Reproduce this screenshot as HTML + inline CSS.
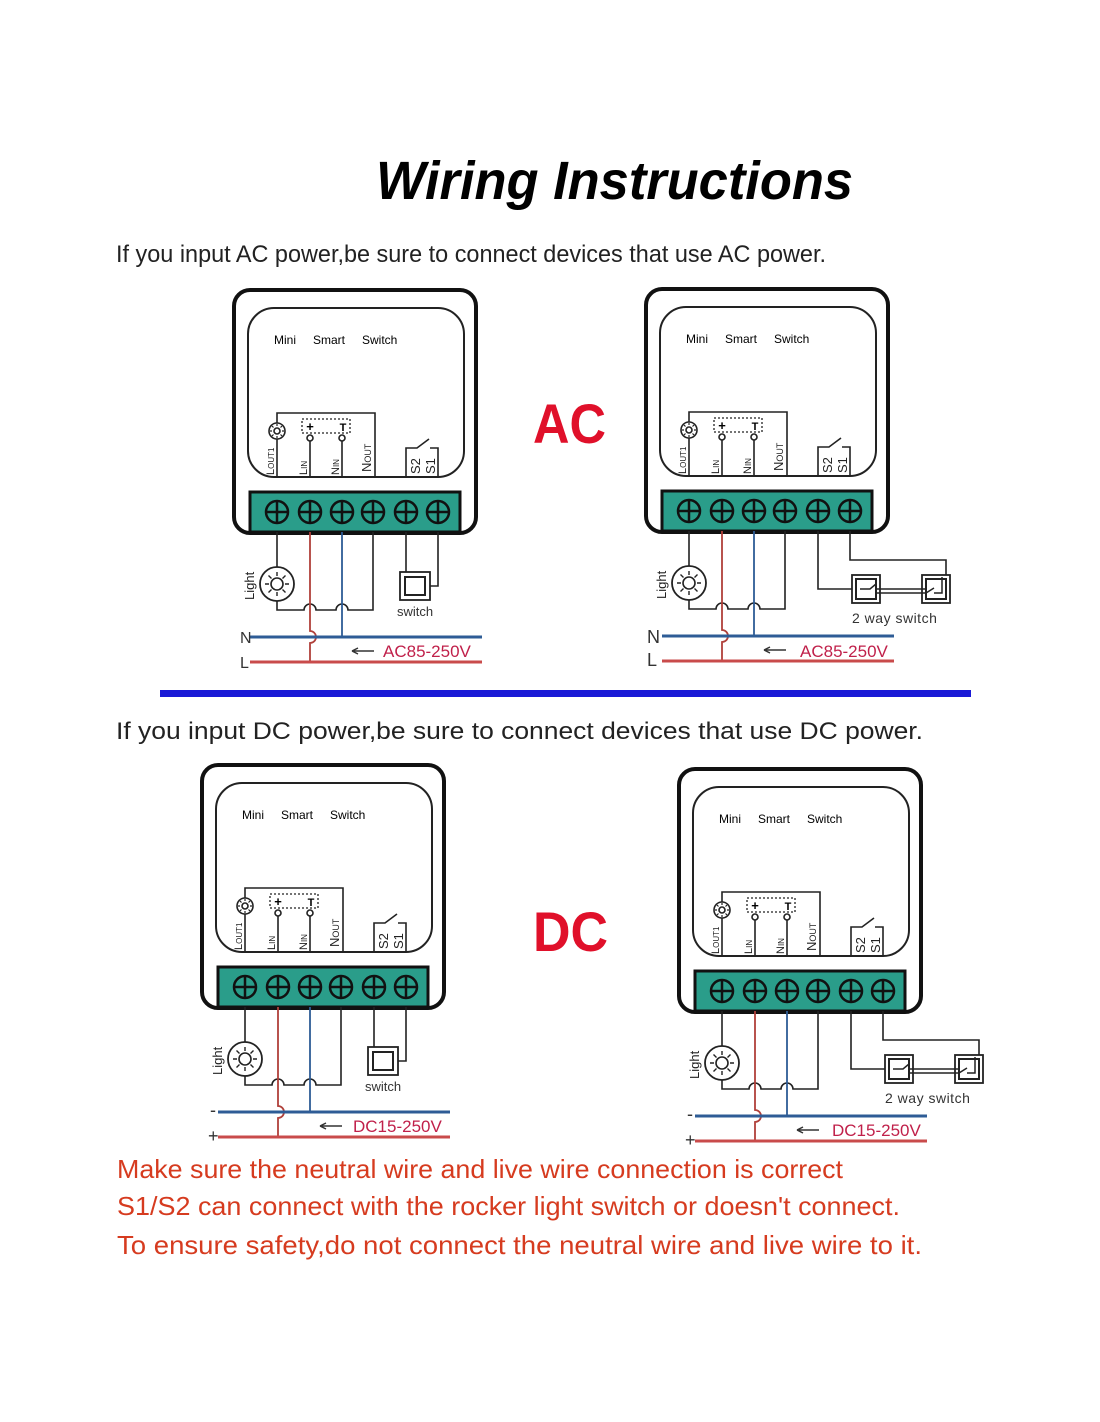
<!DOCTYPE html>
<html><head><meta charset="utf-8">
<style>
html,body{margin:0;padding:0;background:#fff;}
svg{display:block;}
text{font-family:"Liberation Sans",Arial,sans-serif;}
</style></head>
<body>
<svg width="1100" height="1422" viewBox="0 0 1100 1422" xmlns="http://www.w3.org/2000/svg">
<defs>
<g id="dev">
  <rect x="2" y="2" width="242" height="243" rx="16" fill="#fff" stroke="#111" stroke-width="4"/>
  <rect x="16" y="20" width="216" height="169" rx="26" fill="none" stroke="#222" stroke-width="2"/>
  <rect x="18" y="204" width="210" height="40" fill="#2a9d8a" stroke="#111" stroke-width="3"/>
  <g fill="#2a9d8a" stroke="#111" stroke-width="2.5">
    <circle cx="45" cy="224" r="11"/><circle cx="78" cy="224" r="11"/><circle cx="110" cy="224" r="11"/>
    <circle cx="141" cy="224" r="11"/><circle cx="174" cy="224" r="11"/><circle cx="206" cy="224" r="11"/>
  </g>
  <path d="M34 224h22M45 213v22M67 224h22M78 213v22M99 224h22M110 213v22M130 224h22M141 213v22M163 224h22M174 213v22M195 224h22M206 213v22" stroke="#111" stroke-width="2.5"/>
  <g stroke="#222" stroke-width="1.6" fill="none">
    <path d="M45 189V125H143V189"/>
    <circle cx="45" cy="143" r="8" fill="#fff"/>
    <circle cx="45" cy="143" r="3"/>
    <path d="M45 136v2M45 148v2M38 143h2M50 143h2M40 138l1.5 1.5M48.5 146.5l1.5 1.5M40 148l1.5-1.5M48.5 139.5l1.5-1.5" stroke-width="1.2"/>
    <path d="M78 153V189M110 153V189"/>
    <circle cx="78" cy="150" r="3"/><circle cx="110" cy="150" r="3"/>
    <rect x="70" y="131" width="48" height="14" stroke-dasharray="2,2" stroke-width="1.3"/>
    <path d="M174 189V160H185L197 151M198 160H206V189"/>
  </g>
  <text x="78" y="143" font-size="13" font-weight="bold" text-anchor="middle">+</text>
  <text x="111" y="143" font-size="11" font-weight="bold" text-anchor="middle">T</text>
  <text x="42" y="56" font-size="12">Mini</text>
  <text x="81" y="56" font-size="12">Smart</text>
  <text x="130" y="56" font-size="12">Switch</text>
  <g font-size="11" fill="#222">
    <text transform="translate(42,187) rotate(-90)">L<tspan font-size="8">OUT1</tspan></text>
    <text transform="translate(75,187) rotate(-90)">L<tspan font-size="8">IN</tspan></text>
    <text transform="translate(107,187) rotate(-90)">N<tspan font-size="8">IN</tspan></text>
    <text transform="translate(139,184) rotate(-90)" font-size="13">N<tspan font-size="9">OUT</tspan></text>
    <text transform="translate(188,186) rotate(-90)" font-size="13">S2</text>
    <text transform="translate(203,186) rotate(-90)" font-size="13">S1</text>
  </g>
  <g fill="none" stroke="#222" stroke-width="1.6">
    <path d="M45 244V279M45 313V322H72a6 6 0 0 1 12 0H104a6 6 0 0 1 12 0H141V244"/>
    <circle cx="45" cy="296" r="17" fill="#fff" stroke-width="1.8"/>
    <circle cx="45" cy="296" r="6"/>
    <path d="M45 284v4M45 304v4M33 296h4M53 296h4M36.5 287.5l3 3M50.5 301.5l3 3M36.5 304.5l3-3M50.5 290.5l3-3" stroke-width="1.4"/>
  </g>
  <text transform="translate(22,312) rotate(-90)" font-size="13" fill="#222">Light</text>
  <path d="M78 244V343a6 6 0 0 1 0 12V374" fill="none" stroke="#b0403a" stroke-width="1.8"/>
  <path d="M110 244V349" stroke="#2e5c96" stroke-width="1.8"/>
  <path d="M18 349H250" stroke="#2e5c96" stroke-width="3"/>
  <path d="M18 374H250" stroke="#c94b4b" stroke-width="3"/>
  <path d="M120 363H142M120 363l6-3M120 363l6 3" stroke="#333" stroke-width="1.5" fill="none"/>
</g>
<g id="sw1">
  <path d="M174 244V298H168M206 244V298H198" fill="none" stroke="#222" stroke-width="1.6"/>
  <rect x="168" y="284" width="30" height="28" fill="#fff" stroke="#222" stroke-width="1.8"/>
  <rect x="173" y="289" width="20" height="18" fill="none" stroke="#222" stroke-width="2"/>
  <text x="183" y="328" font-size="13" text-anchor="middle" fill="#333">switch</text>
</g>
<g id="sw2">
  <path d="M174 244V302H208M206 244V273H302V290" fill="none" stroke="#222" stroke-width="1.6"/>
  <rect x="208" y="288" width="28" height="28" fill="#fff" stroke="#222" stroke-width="1.8"/>
  <rect x="212" y="292" width="20" height="20" fill="none" stroke="#222" stroke-width="2"/>
  <rect x="278" y="288" width="28" height="28" fill="#fff" stroke="#222" stroke-width="1.8"/>
  <rect x="282" y="292" width="20" height="20" fill="none" stroke="#222" stroke-width="2"/>
  <path d="M216 302H226L232 297M232 302H282M232 306H282M282 306L290 301M290 306H298V290" fill="none" stroke="#222" stroke-width="1.5"/>
  <text x="208" y="336" font-size="14" fill="#333" letter-spacing="0.5">2 way switch</text>
</g>
</defs>

<text x="376" y="199" font-size="54" font-weight="bold" font-style="italic" textLength="477" lengthAdjust="spacingAndGlyphs">Wiring Instructions</text>
<text x="116" y="262" font-size="24" fill="#222" textLength="710" lengthAdjust="spacingAndGlyphs">If you input AC power,be sure to connect devices that use AC power.</text>

<g transform="translate(232,288)">
  <use href="#dev"/><use href="#sw1"/>
  <text x="8" y="355" font-size="16" fill="#333">N</text>
  <text x="8" y="380" font-size="16" fill="#333">L</text>
  <text x="151" y="369" font-size="17" fill="#c0204a">AC85-250V</text>
</g>
<g transform="translate(644,287)">
  <use href="#dev"/><use href="#sw2"/>
  <text x="3" y="356" font-size="18" fill="#333">N</text>
  <text x="3" y="379" font-size="18" fill="#333">L</text>
  <text x="156" y="370" font-size="17" fill="#c0204a">AC85-250V</text>
</g>

<text x="533" y="443" font-size="56" font-weight="bold" fill="#e0102a" textLength="73" lengthAdjust="spacingAndGlyphs">AC</text>

<rect x="160" y="690" width="811" height="7" fill="#1a1ad6"/>

<text x="116" y="739" font-size="24" fill="#222" textLength="807" lengthAdjust="spacingAndGlyphs">If you input DC power,be sure to connect devices that use DC power.</text>

<g transform="translate(200,763)">
  <use href="#dev"/><use href="#sw1"/>
  <text x="10" y="353" font-size="18" fill="#333">-</text>
  <text x="8" y="379" font-size="18" fill="#333">+</text>
  <text x="153" y="369" font-size="17" fill="#c0204a">DC15-250V</text>
</g>
<g transform="translate(677,767)">
  <use href="#dev"/><use href="#sw2"/>
  <text x="10" y="353" font-size="18" fill="#333">-</text>
  <text x="8" y="379" font-size="18" fill="#333">+</text>
  <text x="155" y="369" font-size="17" fill="#c0204a">DC15-250V</text>
</g>

<text x="533" y="951" font-size="56" font-weight="bold" fill="#e0102a" textLength="75" lengthAdjust="spacingAndGlyphs">DC</text>

<g font-size="26" fill="#d63b1f">
<text x="117" y="1178" textLength="726" lengthAdjust="spacingAndGlyphs">Make sure the neutral wire and live wire connection is correct</text>
<text x="117" y="1215" textLength="783" lengthAdjust="spacingAndGlyphs">S1/S2 can connect with the rocker light switch or doesn't connect.</text>
<text x="117" y="1254" textLength="805" lengthAdjust="spacingAndGlyphs">To ensure safety,do not connect the neutral wire and live wire to it.</text>
</g>
</svg>
</body></html>
